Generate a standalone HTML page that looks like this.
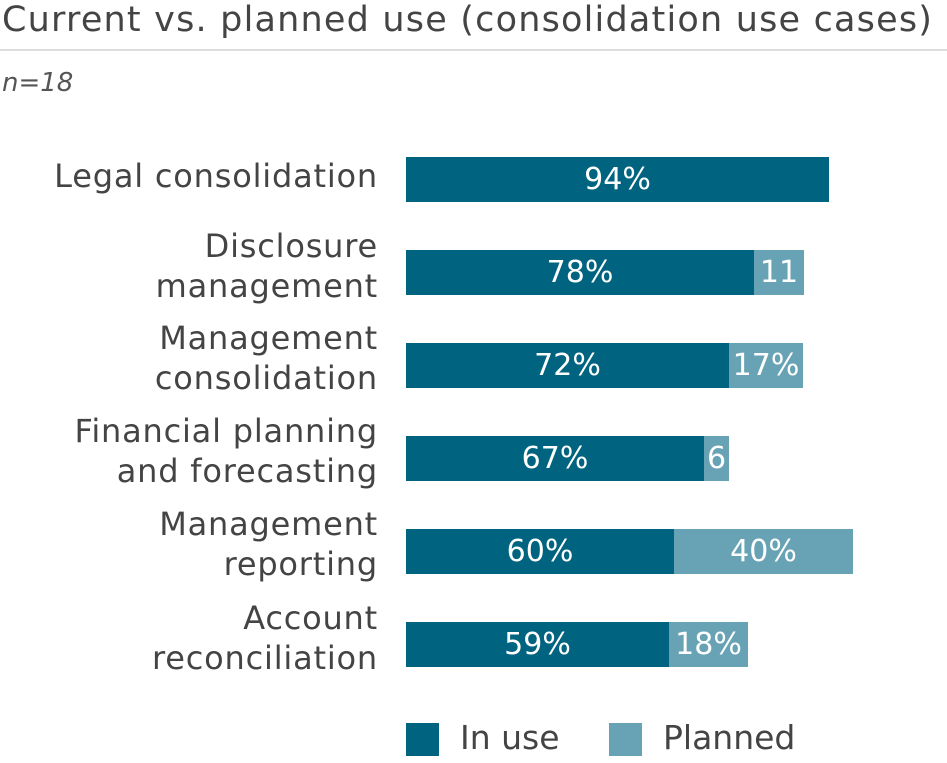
<!DOCTYPE html><html><head><style>
body{margin:0;width:947px;height:763px;background:#fff;font-family:"DejaVu Sans","Liberation Sans",sans-serif;position:relative;overflow:hidden}
.t{position:absolute;left:2px;top:0px;font-size:35px;color:#444;white-space:nowrap;letter-spacing:1.2px}
.hr{position:absolute;left:0;top:49px;width:947px;height:2px;background:#ddd}
.n{position:absolute;left:2px;top:68px;font-size:26px;font-style:italic;color:#555}
.l{position:absolute;right:569px;text-align:right;font-size:32px;line-height:40px;color:#444;white-space:nowrap;letter-spacing:0.8px}
.b{position:absolute;height:45px;color:#fff;font-size:30px;line-height:46px;text-align:center;overflow:hidden;white-space:nowrap}
.d{background:#00637f}.p{background:#68a3b5}
.lg{position:absolute;top:723px;width:33px;height:33px}
.lt{position:absolute;top:718px;font-size:33px;color:#444}
</style></head><body>
<div class="t">Current vs. planned use (consolidation use cases)</div>
<div class="hr"></div>
<div class="n">n=18</div>
<div class="l" style="top:156px">Legal consolidation</div>
<div class="l" style="top:226px">Disclosure<br>management</div>
<div class="l" style="top:318px">Management<br>consolidation</div>
<div class="l" style="top:411px">Financial planning<br>and forecasting</div>
<div class="l" style="top:504px">Management<br>reporting</div>
<div class="l" style="top:598px">Account<br>reconciliation</div>
<div class="b d" style="left:406px;top:157px;width:423px">94%</div>
<div class="b d" style="left:406px;top:250px;width:348px">78%</div>
<div class="b p" style="left:754px;top:250px;width:50px">11</div>
<div class="b d" style="left:406px;top:343px;width:323px">72%</div>
<div class="b p" style="left:729px;top:343px;width:74px">17%</div>
<div class="b d" style="left:406px;top:436px;width:298px">67%</div>
<div class="b p" style="left:704px;top:436px;width:25px">6</div>
<div class="b d" style="left:406px;top:529px;width:268px">60%</div>
<div class="b p" style="left:674px;top:529px;width:179px">40%</div>
<div class="b d" style="left:406px;top:622px;width:263px">59%</div>
<div class="b p" style="left:669px;top:622px;width:79px">18%</div>
<div class="lg d" style="left:406px"></div><div class="lt" style="left:460px">In use</div>
<div class="lg p" style="left:609px"></div><div class="lt" style="left:663px">Planned</div>
</body></html>
